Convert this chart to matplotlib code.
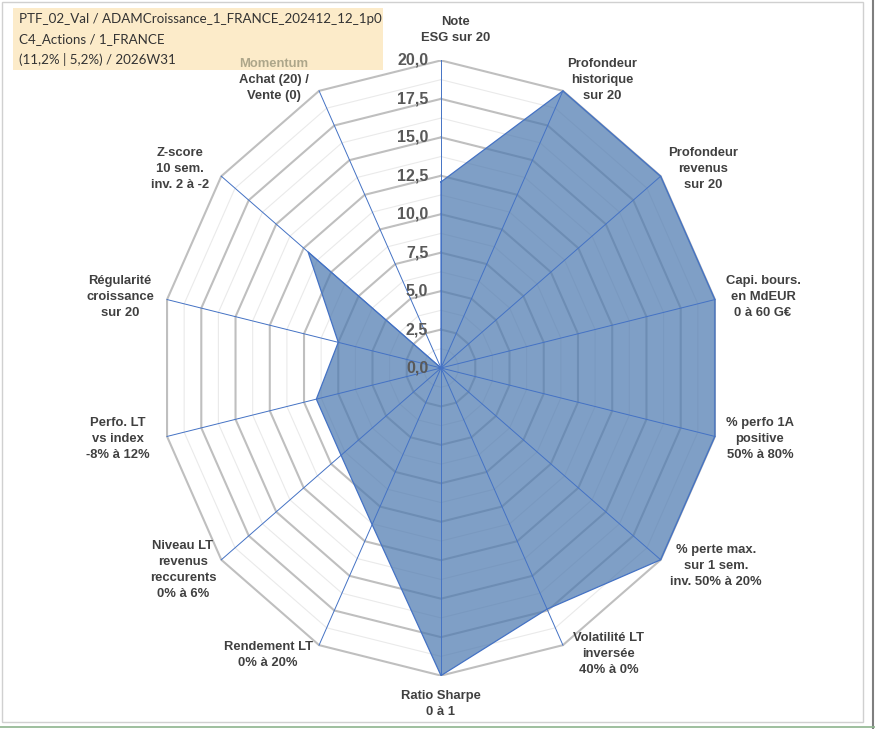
import matplotlib

matplotlib.use('Agg')
import matplotlib.pyplot as plt
import numpy as np
from matplotlib.patches import Rectangle

# ── Data ──────────────────────────────────────────────────────────────────────
AXES_LABELS = [
    'Note\nESG sur 20',
    'Profondeur\nhistorique\nsur 20',
    'Profondeur\nrevenus\nsur 20',
    'Capi. bours.\nen MdEUR\n0 à 60 G€',
    '% perfo 1A\npositive\n50% à 80%',
    '% perte max.\nsur 1 sem.\ninv. 50% à 20%',
    'Volatilité LT\ninversée\n40% à 0%',
    'Ratio Sharpe\n0 à 1',
    'Rendement LT\n0% à 20%',
    'Niveau LT\nrevenus\nreccurents\n0% à 6%',
    'Perfo. LT\nvs index\n-8% à 12%',
    'Régularité\ncroissance\nsur 20',
    'Z-score\n10 sem.\ninv. 2 à -2',
    'Achat (20) /\nVente (0)',
]
SCORES = [12.1, 20.0, 20.0, 20.0, 20.0, 20.0, 17.4, 20.0, 11.3, 9.1, 9.1, 7.5, 12.1, 0.0]
TICKS = [0.0, 2.5, 5.0, 7.5, 10.0, 12.5, 15.0, 17.5, 20.0]
TITLE_LINES = ['PTF_02_Val / ADAMCroissance_1_FRANCE_202412_12_1p0',
               'C4_Actions / 1_FRANCE',
               '(11,2% | 5,2%) / 2026W31']

# label centres, in pixels of the 875x729 picture
LABEL_PX = [(456, 30), (602, 80), (703, 169), (763, 297), (760, 439),
            (716, 566), (609, 654), (441, 704), (268, 655), (183, 570),
            (118, 439), (120, 297), (180, 169), (274, 88)]

# ── Canvas ────────────────────────────────────────────────────────────────────
W, H = 875, 729
CX, CY = 441, 368       # centre of the radar
RX, RY = 281, 307.6     # pixel radius of the 20 ring (Excel stretches it)
RMAX = 20.0

fig = plt.figure(figsize=(W / 100, H / 100), dpi=100)
fig.patch.set_facecolor('white')
ax = fig.add_axes([(CX - RX) / W, (H - CY - RY) / H, 2 * RX / W, 2 * RY / H])
ax.set_xlim(-RMAX, RMAX)
ax.set_ylim(-RMAX, RMAX)
ax.axis('off')


def px2data(px, py):
    return (px - CX) / RX * RMAX, (CY - py) / RY * RMAX


n = len(SCORES)
theta = np.arange(n) * 2 * np.pi / n
sx, cy = np.sin(theta), np.cos(theta)

# ── Grid polygons ─────────────────────────────────────────────────────────────
levels_minor = np.arange(1.25, RMAX, 2.5)
for lv in levels_minor:
    ax.plot(np.append(lv * sx, lv * sx[0]), np.append(lv * cy, lv * cy[0]),
            color='#EAEAEA', lw=0.8, zorder=1)
for lv in TICKS[1:]:
    ax.plot(np.append(lv * sx, lv * sx[0]), np.append(lv * cy, lv * cy[0]),
            color='#BFBFBF', lw=1.5, zorder=2, solid_joinstyle='miter')

# ── Series ────────────────────────────────────────────────────────────────────
v = np.array(SCORES)
ax.fill(v * sx, v * cy, facecolor='#4E7AB0', alpha=0.72, edgecolor='none', zorder=3)
ax.plot(np.append(v * sx, v[0] * sx[0]), np.append(v * cy, v[0] * cy[0]),
        color='#4472C4', lw=0.9, zorder=4)

# spokes
for s, c in zip(sx, cy):
    ax.plot([0, RMAX * s], [0, RMAX * c], color='#4472C4', lw=0.7, zorder=5)

# radial tick labels
for t in TICKS:
    ax.text(-0.9, t, f'{t:.1f}'.replace('.', ','), ha='right', va='center',
            fontsize=11.5, fontweight='bold', color='#595959',
            family='Liberation Sans', zorder=6)

# category labels
for lab, (px, py) in zip(AXES_LABELS, LABEL_PX):
    x, y = px2data(px, py)
    ax.text(x, y, lab, ha='center', va='center', fontsize=9.4, fontweight='bold',
            color='#404040', family='Liberation Sans', linespacing=1.45,
            clip_on=False, zorder=6)
# "Momentum" heading in its own colour
mx, my = px2data(274, 64)
ax.text(mx, my, 'Momentum', ha='center', va='center', fontsize=9.4,
        fontweight='bold', color='#ADA68A', family='Liberation Sans',
        clip_on=False, zorder=6)

# ── Title box ─────────────────────────────────────────────────────────────────
fig.patches.append(Rectangle((13 / W, 1 - 70 / H), 370 / W, 62 / H,
                             transform=fig.transFigure, facecolor='#FCEBC9',
                             edgecolor='none', zorder=-1))
for i, line in enumerate(TITLE_LINES):
    fig.text(19 / W, 1 - (19 + 20.5 * i) / H, line, ha='left', va='center',
             fontsize=9.6, color='#333333', family='Lato')

# ── Frame ─────────────────────────────────────────────────────────────────────
fig.patches.append(Rectangle((2 / W, 1 - 722 / H), 861 / W, 720 / H,
                             transform=fig.transFigure, facecolor='none',
                             edgecolor='#D0D0D0', lw=1.0))
fig.lines.append(plt.Line2D([873 / W, 873 / W], [0, 1], transform=fig.transFigure,
                            color='#7F7F7F', lw=1.5))
fig.lines.append(plt.Line2D([0, 1], [2.5 / H, 2.5 / H], transform=fig.transFigure,
                            color='#8DB48E', lw=1.2))

fig.savefig('out.png', dpi=100, facecolor=fig.get_facecolor())
plt.close(fig)
